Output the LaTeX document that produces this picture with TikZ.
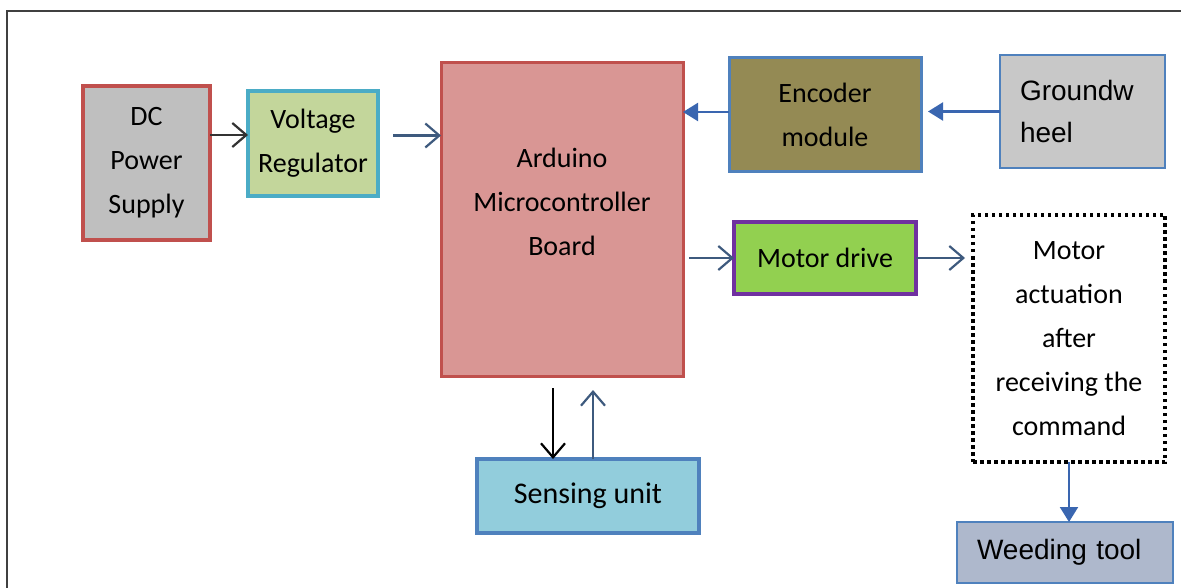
\documentclass[tikz,border=0pt]{standalone}
\usepackage{fontspec}
\setmainfont{Carlito}
\newfontfamily\arialfont{Liberation Sans}
\usetikzlibrary{arrows.meta}

\definecolor{boxred}{HTML}{C0504D}
\definecolor{boxblue}{HTML}{4F81BD}
\definecolor{boxcyan}{HTML}{4BACC6}
\definecolor{boxpurple}{HTML}{7030A0}
\definecolor{dcgray}{HTML}{BFBFBF}
\definecolor{wheelgray}{HTML}{C8C8C8}
\definecolor{vrgreen}{HTML}{C3D69B}
\definecolor{ardpink}{HTML}{D99694}
\definecolor{encolive}{HTML}{948A54}
\definecolor{mdgreen}{HTML}{92D050}
\definecolor{sencyan}{HTML}{92CDDC}
\definecolor{wtgray}{HTML}{AEB8CC}
\definecolor{slate}{HTML}{3E5A7E}
\definecolor{darkline}{HTML}{333333}
\definecolor{tipblue}{HTML}{3A66B0}

\begin{document}
\begin{tikzpicture}[x=1pt, y=1pt,
  block/.style={draw, line width=3.5pt, inner sep=0pt, outer sep=0pt, align=center,
    font=\fontsize{28}{44}\selectfont},
  plainbox/.style={draw=boxblue, line width=1.5pt, outer sep=0pt, inner ysep=0pt,
    inner xsep=20pt, align=left, font=\arialfont\fontsize{28}{42}\selectfont},
  barbline/.style={line width=2.2pt, -{Straight Barb[length=14pt,width=24pt,line width=2.2pt]}},
  tipline/.style={line width=2.2pt, draw=tipblue, -{Triangle[length=15pt,width=18pt]}}]
\useasboundingbox (0,0) rectangle (1181,-588);
\draw[line width=2pt, black!75] (1181,-11) -- (7,-11) -- (7,-588);

\node[block, draw=boxred, fill=dcgray, minimum width=127pt, minimum height=154pt] (dc) at (146.5,-163) {DC\\Power\\Supply};
\node[block, draw=boxcyan, fill=vrgreen, minimum width=130pt, minimum height=105pt] (vr) at (313,-143.5) {Voltage\\Regulator};
\node[block, draw=boxred, fill=ardpink, line width=3pt, minimum width=242pt, minimum height=313pt] (ard) at (562,-219.5) {Arduino\\Microcontroller\\Board\\[-8pt]~};
\node[block, draw=boxblue, fill=encolive, line width=3pt, minimum width=192pt, minimum height=114pt] (enc) at (825,-115) {Encoder\\module};
\node[plainbox, fill=wheelgray, text width=125pt, minimum height=113pt] (gw) at (1082.5,-111.5) {Groundw\\heel};
\node[block, draw=boxpurple, fill=mdgreen, minimum width=182pt, minimum height=72pt] (md) at (825,-258) {Motor drive};
\node[block, draw=black, dash pattern=on 3.5pt off 3.5pt, minimum width=192pt, minimum height=247pt] (ma) at (1069,-338.5) {Motor\\actuation\\after\\receiving the\\command};
\node[block, draw=boxblue, fill=sencyan, font=\fontsize{30}{36}\selectfont, minimum width=222pt, minimum height=74pt] (sen) at (588,-496) {Sensing unit};
\node[plainbox, fill=wtgray, text width=176pt, minimum height=61pt] (wt) at (1065,-552.5) {Weeding tool};

\coordinate (sdown) at ([xshift=-35pt]sen.north);
\coordinate (sup) at ([xshift=5pt]sen.north);

\draw[barbline, darkline] ([yshift=28pt]dc.east) -- ([yshift=28pt]dc.east -| vr.west);
\draw[barbline, slate, shorten <=15pt] ([yshift=8pt]vr.east) -- ([yshift=8pt]vr.east -| ard.west);
\draw[tipline] ([yshift=3pt]enc.west) -- ([yshift=3pt]enc.west -| ard.east);
\draw[tipline, shorten >=7pt] (gw.west) -- (gw.west -| enc.east);
\draw[barbline, slate, shorten <=6pt] (md.west -| ard.east) -- (md.west);
\draw[barbline, slate, shorten >=8pt] (md.east) -- (md.east -| ma.west);
\draw[barbline, black, shorten <=12pt] (ard.south -| sdown) -- (sdown);
\draw[barbline, slate, shorten >=14pt] (sup) -- (ard.south -| sup);
\draw[tipline] (ma.south) -- (ma.south |- wt.north);
\end{tikzpicture}
\end{document}
